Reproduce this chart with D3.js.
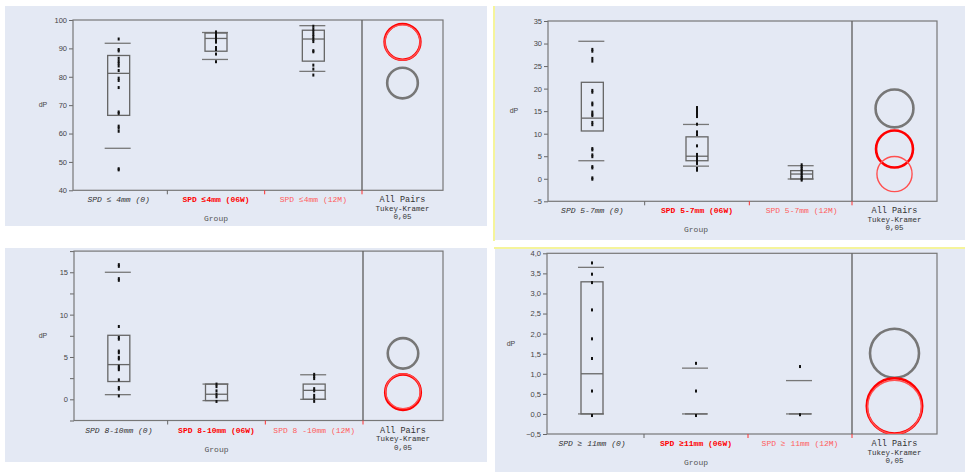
<!DOCTYPE html>
<html>
<head>
<meta charset="utf-8">
<script src="https://cdn.jsdelivr.net/npm/d3@7"></script>
<style>
  body { margin: 0; background: #fff; }
  svg { display: block; }
</style>
</head>
<body>
<svg id="chart" width="965" height="472"></svg>
<script>
// ---- data ----
var groupsA = ["SPD \u2264 4mm (0)", "SPD \u22644mm (06W)", "SPD \u22644mm (12M)"];
var ticksA = [40, 50, 60, 70, 80, 90, 100];
var pointsA = [
  [93.3, 89.6, 89.1, 86.5, 85.5, 84.7, 83.8, 82.2, 79.5, 78.7, 76.2, 67.6, 67.1, 62.6, 61.9, 60.8, 47.6, 47.2],
  [95.8, 95.2, 94.6, 94.0, 93.4, 92.8, 92.2, 90.3, 89.6, 88.0, 85.3],
  [97.8, 96.8, 95.9, 94.9, 94.1, 93.2, 92.4, 89.2, 88.8, 84.1, 82.7, 80.6]
];
var boxA = [[66.4, 81.2, 87.5], [89.0, 93.5, 95.4], [85.5, 93.3, 96.4]];
var quantA = [[54.8, 91.8], [86.1, 95.6], [81.9, 98.0]];
var circlesA = [[77.8, 5.4], [92.3, 6.3], [92.1, 6.2]];

var groupsB = ["SPD 5-7mm (0)", "SPD 5-7mm (06W)", "SPD 5-7mm (12M)"];
var ticksB = [-5, 0, 5, 10, 15, 20, 25, 30, 35];
var pointsB = [
  [28.7, 28.3, 26.7, 26.1, 19.6, 19.2, 16.8, 16.4, 14.8, 14.3, 14.0, 12.5, 12.0, 6.7, 6.4, 5.3, 4.9, 2.7, 2.4, 0.2, -0.1],
  [15.8, 15.4, 15.0, 14.6, 14.2, 13.8, 12.1, 10.4, 9.8, 7.3, 5.4, 4.9, 4.3, 3.8, 3.4, 2.3, 1.9],
  [3.1, 2.7, 2.3, 1.9, 1.5, 1.1, 0.7, 0.3, 0.0, -0.3]
];
var boxB = [[10.6, 13.45, 21.4], [4.0, 5.0, 9.3], [-0.05, 1.05, 1.8]];
var quantB = [[4.0, 30.5], [2.8, 12.05], [-0.05, 2.9]];
var circlesB = [[15.6, 4.2], [6.6, 4.1], [1.05, 3.9]];

var groupsC = ["SPD 8-10mm (0)", "SPD 8-10mm (06W)", "SPD 8 -10mm (12M)"];
var ticksC = [0, 5, 10, 15];
var minorC = [-2.5, 2.5, 7.5, 12.5, 17.5];
var pointsC = [
  [15.9, 15.7, 14.25, 14.05, 8.6, 7.3, 7.1, 5.7, 5.5, 4.96, 4.76, 3.9, 3.7, 3.5, 2.3, 1.4, 1.2, 0.4],
  [1.8, 1.5, 1.0, 0.6, 0.3, -0.25],
  [2.95, 2.7, 2.45, 1.26, 1.0, 0.47, 0.16, -0.24]
];
var boxC = [[2.1, 4.1, 7.56], [-0.15, 0.6, 1.8], [0.0, 1.06, 1.8]];
var quantC = [[0.55, 15.0], [-0.15, 1.8], [0.0, 2.9]];
var circlesC = [[5.43, 1.8], [0.85, 2.1], [0.95, 2.05]];

var groupsD = ["SPD \u2265 11mm (0)", "SPD \u226511mm (06W)", "SPD \u2265 11mm (12M)"];
var ticksD = [-0.5, 0, 0.5, 1, 1.5, 2, 2.5, 3, 3.5, 4];
var pointsD = [
  [3.76, 3.48, 3.27, 2.59, 1.87, 1.38, 0.57, -0.04],
  [1.26, 0.57, -0.04],
  [1.18, -0.02]
];
var boxD = [[0, 1.0, 3.29], [0, 0, 0], [0, 0, 0]];
var quantD = [[0, 3.65], [0, 1.14], [0, 0.83]];
var circlesD = [[1.51, 0.61], [0.2, 0.69], [0.17, 0.67]];

// ---- layout ----
var panels = [
  { groups: groupsA, ticks: ticksA, minor: [], domain: [40, 100], points: pointsA, box: boxA, quant: quantA, circles: circlesA,
    bg: [5, 6, 487, 226], left: 73, right: 443, top: 20, bottom: 190.3, divider: 362, band: [70, 362], yl: 43, fmt: d3.format("d") },
  { groups: groupsB, ticks: ticksB, minor: [], domain: [-5, 35], points: pointsB, box: boxB, quant: quantB, circles: circlesB,
    bg: [495, 6, 965, 240], left: 548, right: 937, top: 21, bottom: 201.3, divider: 852, band: [540, 854], yl: 514, fmt: d3.format("d") },
  { groups: groupsC, ticks: ticksC, minor: minorC, domain: [-2.5, 17.5], points: pointsC, box: boxC, quant: quantC, circles: circlesC,
    bg: [5, 248, 487, 462], left: 74, right: 443, top: 251.1, bottom: 420.5, divider: 363, band: [70, 363], yl: 43, fmt: d3.format("d") },
  { groups: groupsD, ticks: ticksD, minor: [], domain: [-0.5, 4], points: pointsD, box: boxD, quant: quantD, circles: circlesD,
    bg: [495, 249, 965, 472], left: 547, right: 937, top: 253.3, bottom: 434, divider: 852, band: [540, 852], yl: 511,
    fmt: function (d) { return d3.format(".1f")(d).replace(".", ","); } }
];

var labelColors = ["#333", "#ff0000", "#ff5c5c"];
var labelWeights = ["normal", "bold", "normal"];
var labelStyles = ["italic", "normal", "normal"];
var circleColors = ["#777", "#ff0000", "#ff5050"];
var circleWidths = [2.6, 2.6, 1.4];
var mono = "'Liberation Mono', 'DejaVu Sans Mono', monospace";

var svg = d3.select("#chart");

// yellow separators
svg.append("line").attr("x1", 494).attr("x2", 494).attr("y1", 6).attr("y2", 241)
  .style("stroke", "#f2f07a").style("stroke-width", 1.5);
svg.append("line").attr("x1", 494).attr("x2", 965).attr("y1", 248).attr("y2", 248)
  .style("stroke", "#f2f07a").style("stroke-width", 1.5);

panels.forEach(function (p, pi) {
  var g = svg.append("g");

  g.append("rect")
    .attr("x", p.bg[0]).attr("y", p.bg[1])
    .attr("width", p.bg[2] - p.bg[0]).attr("height", p.bg[3] - p.bg[1])
    .style("fill", "#e4e9f4");

  var y = d3.scaleLinear().domain(p.domain).range([p.bottom, p.top]);
  var x = d3.scaleBand().domain(p.groups).range(p.band);

  // y axis
  var yAxis = d3.axisLeft(y).tickValues(p.ticks).tickFormat(p.fmt).tickSize(4).tickPadding(2);
  var ya = g.append("g").attr("transform", "translate(" + p.left + ",0)").call(yAxis);
  ya.select(".domain").remove();
  ya.selectAll("line").style("stroke", "#666");
  ya.selectAll("text").style("font-family", "'Liberation Sans', Arial, sans-serif")
    .style("font-size", "7.5px").style("fill", "#444");
  if (p.minor.length) {
    var ym = d3.axisLeft(y).tickValues(p.minor).tickFormat("").tickSize(4);
    var ymg = g.append("g").attr("transform", "translate(" + p.left + ",0)").call(ym);
    ymg.select(".domain").remove();
    ymg.selectAll("line").style("stroke", "#666");
  }

  // frame
  g.append("rect")
    .attr("x", p.left).attr("y", p.top)
    .attr("width", p.right - p.left).attr("height", p.bottom - p.top)
    .style("fill", "none").style("stroke", "#777").style("stroke-width", 1.2);
  g.append("line")
    .attr("x1", p.divider).attr("x2", p.divider).attr("y1", p.top).attr("y2", p.bottom)
    .style("stroke", "#666").style("stroke-width", 1.4);

  // group boundary ticks under the axis
  p.groups.forEach(function (d, i) {
    var bx = i < 2 ? x(p.groups[i + 1]) : p.divider;
    g.append("line")
      .attr("x1", bx).attr("x2", bx).attr("y1", p.bottom).attr("y2", p.bottom + 4)
      .style("stroke", i === 0 ? "#666" : "#ff3030").style("stroke-width", 1);
  });

  var boxW = 22;

  // quantile lines
  p.quant.forEach(function (q, i) {
    var cx = x(p.groups[i]) + x.bandwidth() / 2;
    q.forEach(function (v) {
      g.append("line")
        .attr("x1", cx - boxW / 2 - 3).attr("x2", cx + boxW / 2 + 1)
        .attr("y1", y(v)).attr("y2", y(v))
        .style("stroke", "#777").style("stroke-width", 1.3);
    });
  });

  // boxes
  p.box.forEach(function (b, i) {
    var cx = x(p.groups[i]) + x.bandwidth() / 2;
    g.append("rect")
      .attr("x", cx - boxW / 2).attr("y", y(b[2]))
      .attr("width", boxW).attr("height", y(b[0]) - y(b[2]))
      .style("fill", "none").style("stroke", "#666").style("stroke-width", 1.3);
    g.append("line")
      .attr("x1", cx - boxW / 2).attr("x2", cx + boxW / 2)
      .attr("y1", y(b[1])).attr("y2", y(b[1]))
      .style("stroke", "#666").style("stroke-width", 1.3);
  });

  // points
  p.points.forEach(function (arr, i) {
    var cx = x(p.groups[i]) + x.bandwidth() / 2;
    g.selectAll(null).data(arr).enter().append("rect")
      .attr("x", cx - 1).attr("y", function (d) { return y(d) - 1.5; })
      .attr("width", 2).attr("height", 3)
      .style("fill", "#111");
  });

  // comparison circles
  var clipId = "clip" + pi;
  g.append("clipPath").attr("id", clipId).append("rect")
    .attr("x", p.divider).attr("y", p.top)
    .attr("width", p.right - p.divider).attr("height", p.bottom - p.top);
  var ccx = (p.divider + p.right) / 2;
  var cg = g.append("g").attr("clip-path", "url(#" + clipId + ")");
  cg.selectAll("circle").data(p.circles).enter().append("circle")
    .attr("cx", ccx)
    .attr("cy", function (d) { return y(d[0]); })
    .attr("r", function (d) { return y(p.domain[0]) - y(p.domain[0] + d[1]); })
    .style("fill", "none")
    .style("stroke", function (d, i) { return circleColors[i]; })
    .style("stroke-width", function (d, i) { return circleWidths[i]; });

  // category labels
  p.groups.forEach(function (d, i) {
    g.append("text")
      .attr("x", x(d) + x.bandwidth() / 2).attr("y", p.bottom + 12)
      .attr("text-anchor", "middle")
      .style("font-family", mono).style("font-size", "8px")
      .style("fill", labelColors[i]).style("font-weight", labelWeights[i]).style("font-style", labelStyles[i])
      .text(d);
  });

  g.append("text")
    .attr("x", (p.band[0] + p.divider) / 2).attr("y", p.bottom + 31)
    .attr("text-anchor", "middle")
    .style("font-family", mono).style("font-size", "8px").style("fill", "#555")
    .text("Group");

  var tk = ["All Pairs", "Tukey-Kramer", "0,05"];
  tk.forEach(function (t, i) {
    g.append("text")
      .attr("x", ccx).attr("y", p.bottom + 12 + i * 8.5)
      .attr("text-anchor", "middle")
      .style("font-family", mono).style("font-size", i === 0 ? "8.5px" : "7.5px")
      .style("fill", "#333")
      .text(t);
  });

  g.append("text")
    .attr("x", p.yl).attr("y", (p.top + p.bottom) / 2 + 2)
    .attr("text-anchor", "middle")
    .style("font-family", "'Liberation Sans', Arial, sans-serif").style("font-size", "7px").style("fill", "#444")
    .text("dP");
});
</script>
</body>
</html>
